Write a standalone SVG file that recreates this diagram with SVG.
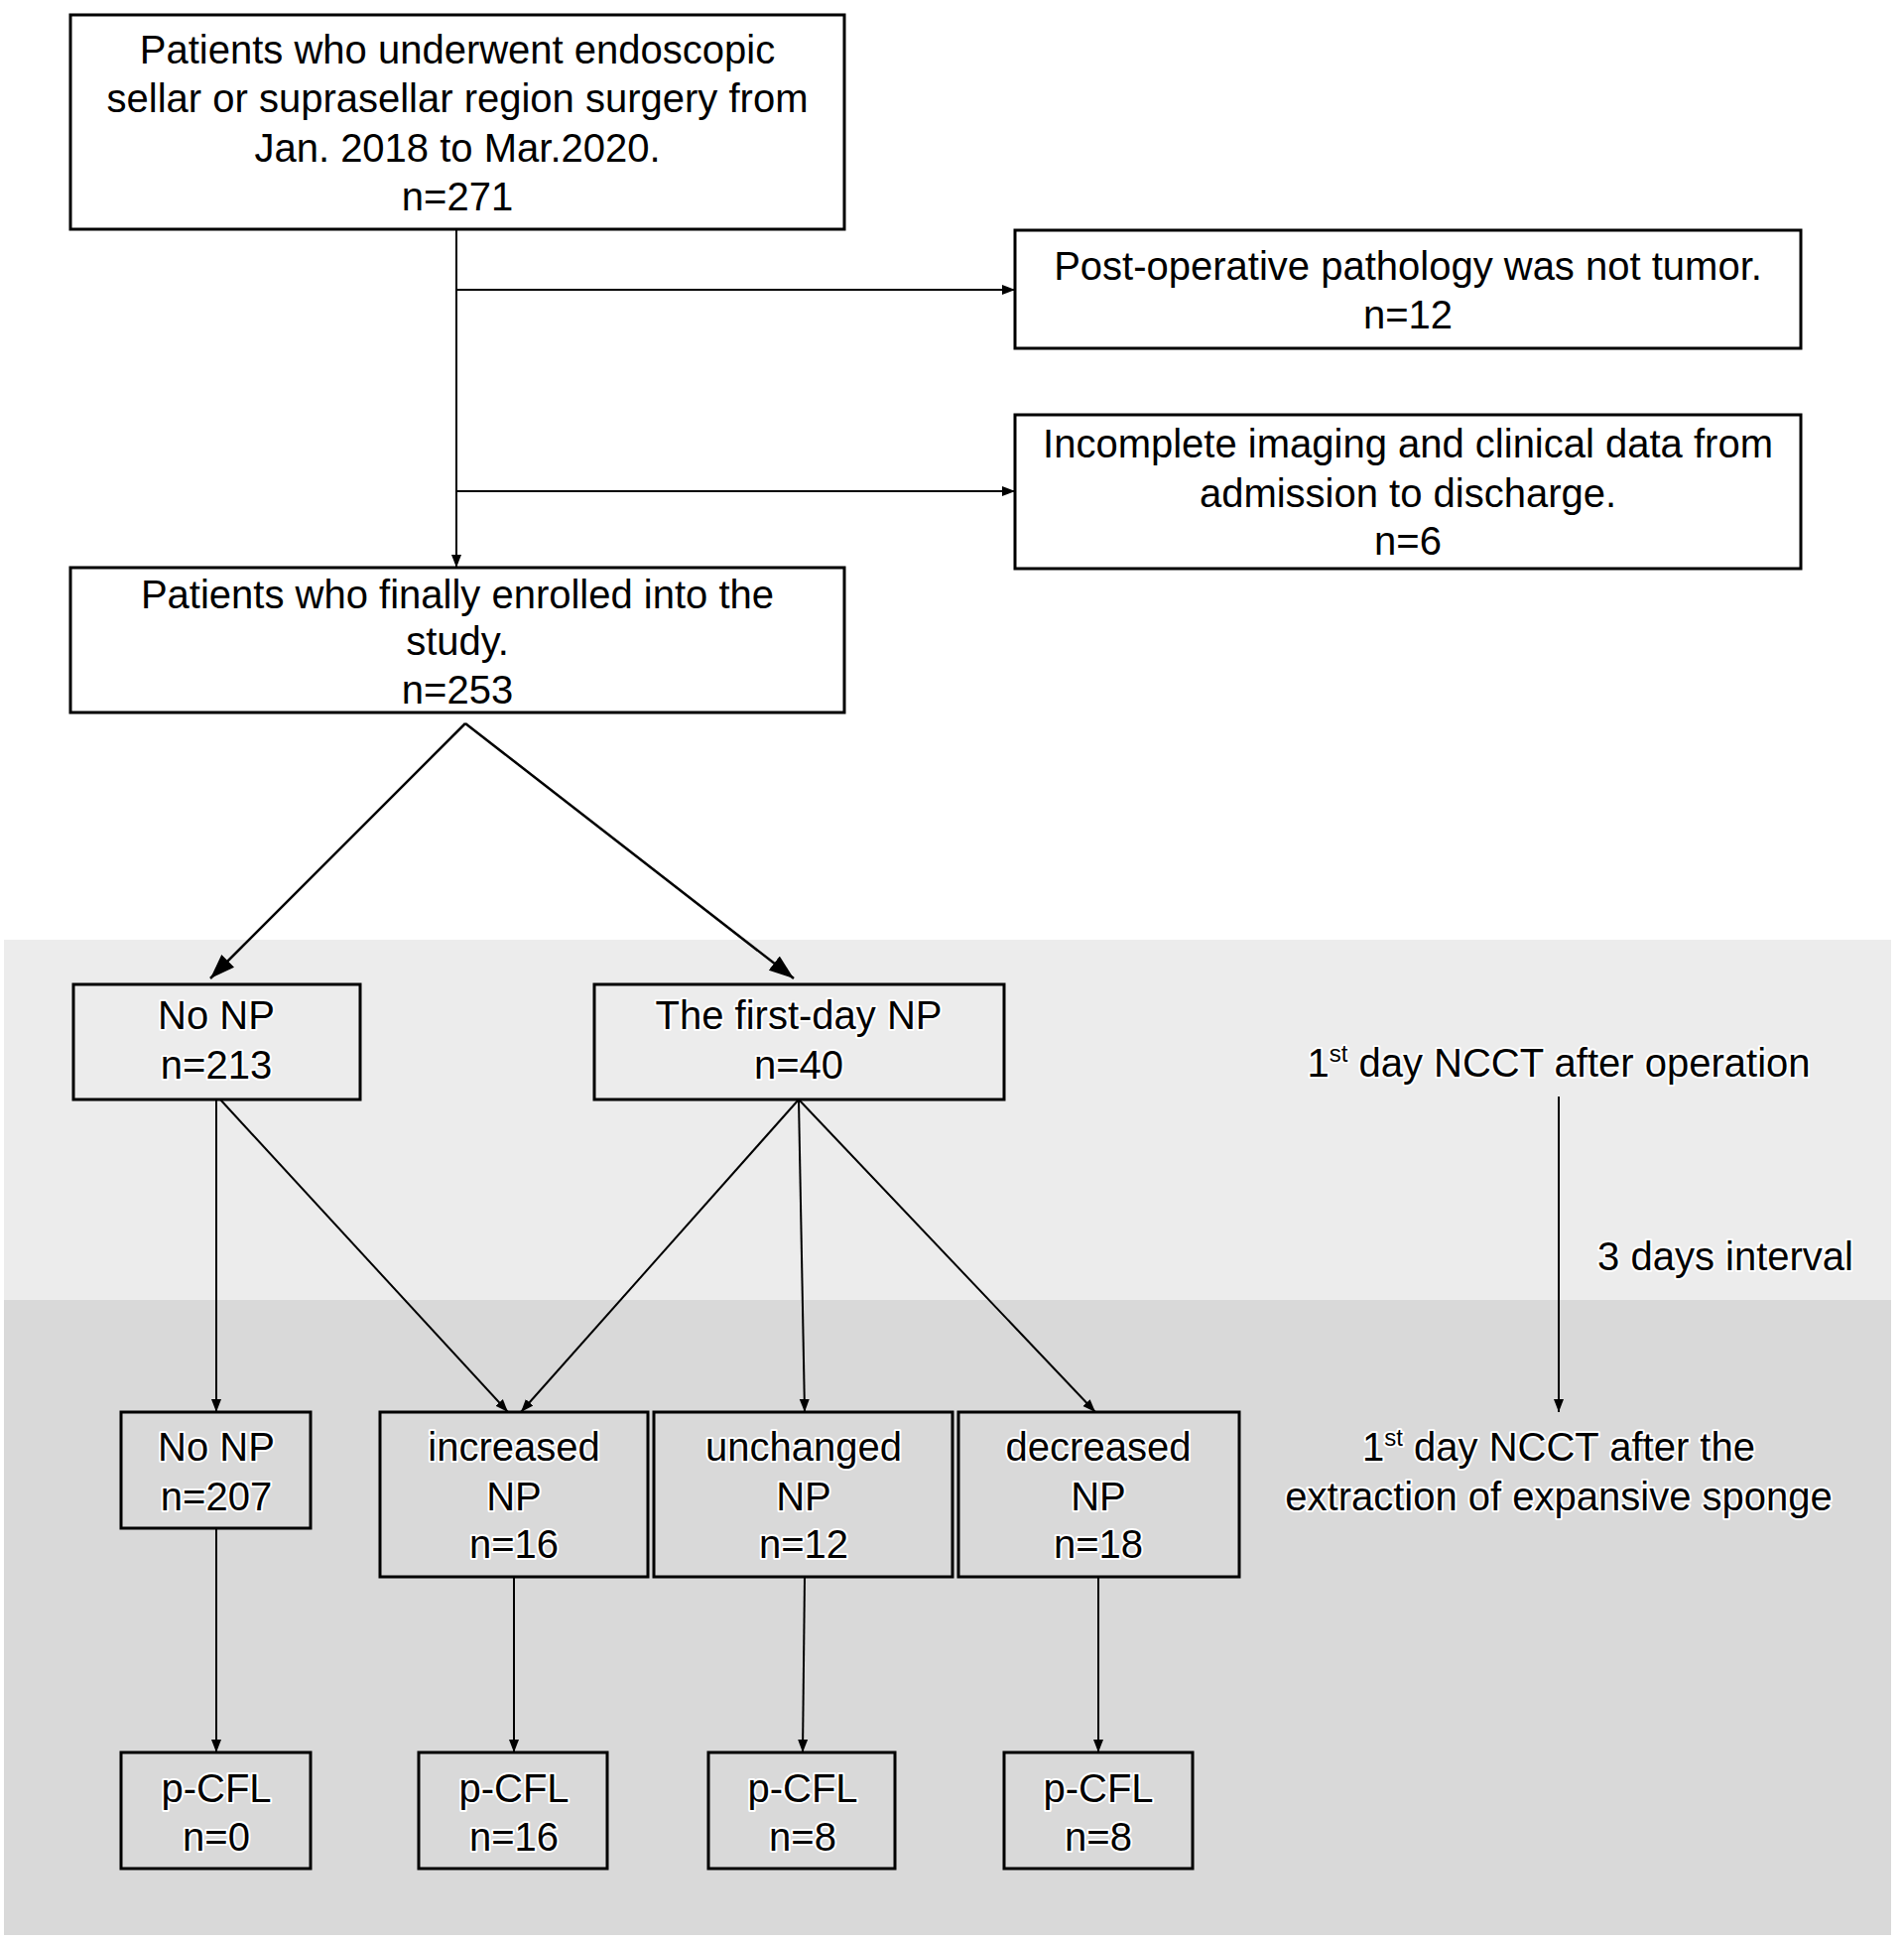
<svg xmlns="http://www.w3.org/2000/svg" width="1919" height="1956" viewBox="0 0 1919 1956">
<defs>
<style>
.box{fill:none;stroke:#000;stroke-width:3}
.t{font-family:"Liberation Sans",Arial,sans-serif;font-size:40px;fill:#000;text-anchor:middle}
.h{stroke:#fff;stroke-width:4;paint-order:stroke;stroke-linejoin:round}
.c{fill:none;stroke:#000;stroke-width:2}
.cb{fill:none;stroke:#000;stroke-width:2.5}
</style>
<marker id="as" markerUnits="userSpaceOnUse" markerWidth="14" markerHeight="12" refX="13" refY="5" orient="auto" viewBox="0 0 14 10">
<path d="M0,0 L13,5 L0,10 z" fill="#000"/>
</marker>
<marker id="ab" markerUnits="userSpaceOnUse" markerWidth="26" markerHeight="20" refX="25" refY="9" orient="auto" viewBox="0 0 26 18">
<path d="M0,0 L25,9 L0,18 z" fill="#000"/>
</marker>
</defs>
<rect width="1919" height="1956" fill="#fff"/>
<g id="bands">
<rect x="4" y="947" width="1902" height="363" fill="#ececec"/>
<rect x="4" y="1310" width="1902" height="640" fill="#d9d9d9"/>
</g>
<g id="connectors">
<line class="c" x1="460" y1="231" x2="460" y2="572" marker-end="url(#as)"/>
<line class="c" x1="460" y1="292" x2="1023" y2="292" marker-end="url(#as)"/>
<line class="c" x1="460" y1="495" x2="1023" y2="495" marker-end="url(#as)"/>
<line class="cb" x1="469" y1="729" x2="212" y2="986" marker-end="url(#ab)"/>
<line class="cb" x1="469" y1="729" x2="800" y2="986" marker-end="url(#ab)"/>
<line class="c" x1="218" y1="1108" x2="218" y2="1423" marker-end="url(#as)"/>
<line class="c" x1="222" y1="1108" x2="512" y2="1423" marker-end="url(#as)"/>
<line class="c" x1="805" y1="1108" x2="525" y2="1423" marker-end="url(#as)"/>
<line class="c" x1="805" y1="1108" x2="811" y2="1423" marker-end="url(#as)"/>
<line class="c" x1="805" y1="1108" x2="1104" y2="1423" marker-end="url(#as)"/>
<line class="c" x1="1571" y1="1105" x2="1571" y2="1423" marker-end="url(#as)"/>
<line class="c" x1="218" y1="1540" x2="218" y2="1766" marker-end="url(#as)"/>
<line class="c" x1="518" y1="1589" x2="518" y2="1766" marker-end="url(#as)"/>
<line class="c" x1="811" y1="1589" x2="809" y2="1766" marker-end="url(#as)"/>
<line class="c" x1="1107" y1="1589" x2="1107" y2="1766" marker-end="url(#as)"/>
</g>
<g id="n-start">
<rect class="box" x="71" y="15" width="780" height="216"/>
<text class="t" x="461" y="64">Patients who underwent endoscopic</text>
<text class="t" x="461" y="113">sellar or suprasellar region surgery from</text>
<text class="t" x="461" y="163">Jan. 2018 to Mar.2020.</text>
<text class="t" x="461" y="212">n=271</text>
</g>
<g id="n-excl1">
<rect class="box" x="1023" y="232" width="792" height="119"/>
<text class="t" x="1419" y="282">Post-operative pathology was not tumor.</text>
<text class="t" x="1419" y="331">n=12</text>
</g>
<g id="n-excl2">
<rect class="box" x="1023" y="418" width="792" height="155"/>
<text class="t" x="1419" y="461">Incomplete imaging and clinical data from</text>
<text class="t" x="1419" y="511">admission to discharge.</text>
<text class="t" x="1419" y="559">n=6</text>
</g>
<g id="n-enrolled">
<rect class="box" x="71" y="572" width="780" height="146"/>
<text class="t" x="461" y="613">Patients who finally enrolled into the</text>
<text class="t" x="461" y="660">study.</text>
<text class="t" x="461" y="709">n=253</text>
</g>
<g id="n-nonp1">
<rect class="box" x="74" y="992" width="289" height="116"/>
<text class="t h" x="218" y="1037">No NP</text>
<text class="t h" x="218" y="1087">n=213</text>
</g>
<g id="n-firstday">
<rect class="box" x="599" y="992" width="413" height="116"/>
<text class="t h" x="805" y="1037">The first-day NP</text>
<text class="t h" x="805" y="1087">n=40</text>
</g>
<g id="lbl-ncct1">
<text class="t h" x="1571" y="1085">1<tspan font-size="24" dy="-15">st</tspan><tspan dy="15"> day NCCT after operation</tspan></text>
</g>
<g id="lbl-interval">
<text class="t h" x="1739" y="1280">3 days interval</text>
</g>
<g id="lbl-ncct2">
<text class="t h" x="1571" y="1472">1<tspan font-size="24" dy="-15">st</tspan><tspan dy="15"> day NCCT after the</tspan></text>
<text class="t h" x="1571" y="1522">extraction of expansive sponge</text>
</g>
<g id="n-nonp2">
<rect class="box" x="122" y="1423" width="191" height="117"/>
<text class="t h" x="218" y="1472">No NP</text>
<text class="t h" x="218" y="1522">n=207</text>
</g>
<g id="n-increased">
<rect class="box" x="383" y="1423" width="270" height="166"/>
<text class="t h" x="518" y="1472">increased</text>
<text class="t h" x="518" y="1522">NP</text>
<text class="t h" x="518" y="1570">n=16</text>
</g>
<g id="n-unchanged">
<rect class="box" x="659" y="1423" width="301" height="166"/>
<text class="t h" x="810" y="1472">unchanged</text>
<text class="t h" x="810" y="1522">NP</text>
<text class="t h" x="810" y="1570">n=12</text>
</g>
<g id="n-decreased">
<rect class="box" x="966" y="1423" width="283" height="166"/>
<text class="t h" x="1107" y="1472">decreased</text>
<text class="t h" x="1107" y="1522">NP</text>
<text class="t h" x="1107" y="1570">n=18</text>
</g>
<g id="n-pcfl1">
<rect class="box" x="122" y="1766" width="191" height="117"/>
<text class="t h" x="218" y="1816">p-CFL</text>
<text class="t h" x="218" y="1865">n=0</text>
</g>
<g id="n-pcfl2">
<rect class="box" x="422" y="1766" width="190" height="117"/>
<text class="t h" x="518" y="1816">p-CFL</text>
<text class="t h" x="518" y="1865">n=16</text>
</g>
<g id="n-pcfl3">
<rect class="box" x="714" y="1766" width="188" height="117"/>
<text class="t h" x="809" y="1816">p-CFL</text>
<text class="t h" x="809" y="1865">n=8</text>
</g>
<g id="n-pcfl4">
<rect class="box" x="1012" y="1766" width="190" height="117"/>
<text class="t h" x="1107" y="1816">p-CFL</text>
<text class="t h" x="1107" y="1865">n=8</text>
</g>
</svg>
